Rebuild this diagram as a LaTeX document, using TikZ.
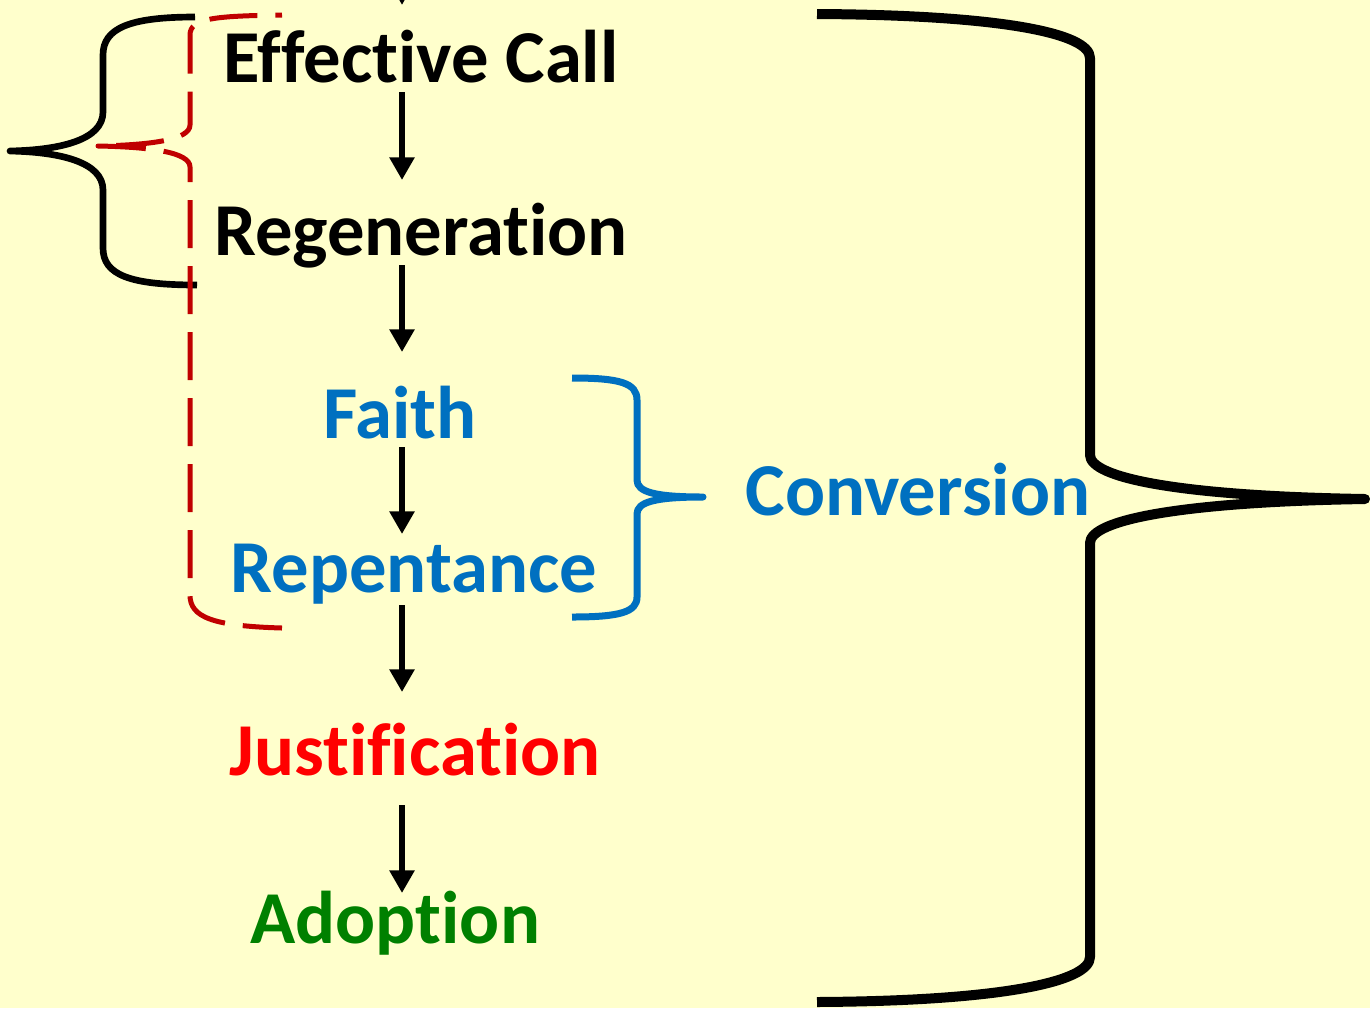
\documentclass[tikz,border=0pt]{standalone}
\usepackage{fontspec}
\setmainfont{Carlito}[Ligatures=NoCommon]
\usetikzlibrary{arrows.meta,calc}
\definecolor{bgyellow}{HTML}{FFFFCC}
\definecolor{cblue}{HTML}{0070C0}
\definecolor{cred}{HTML}{FF0000}
\definecolor{cgreen}{HTML}{008000}
\definecolor{dred}{HTML}{C00000}
\begin{document}
\begin{tikzpicture}[x=0.75pt,y=-0.75pt,
  lbl/.style={font=\fontsize{56}{67}\selectfont\bfseries, inner sep=0pt, anchor=base},
  arr/.style={line width=5pt, -{Triangle[width=18pt,length=17pt]}},
  bracestyle/.style={line width=#1, line join=round},
]
\useasboundingbox (0,0) rectangle (1370,1008);
\fill[bgyellow] (0,0) rectangle (1370,1008);

% labels
\node[lbl] (ec) at (421,82) {Effective Call};
\node[lbl] (rg) at (421,255) {Regeneration};
\node[lbl, text=cblue] (fa) at (400,438) {Faith};
\node[lbl, text=cblue] (rp) at (414,592) {Repentance};
\node[lbl, text=cred] (js) at (415,775) {Justification};
\node[lbl, text=cgreen] (ad) at (395,943) {Adoption};
\node[lbl, text=cblue] (cv) at (918,515) {Conversion};

\coordinate (ax) at (402,0);
\coordinate (topin) at (402,-60);

% arrows
\begin{scope}
\clip (0,0) rectangle (1370,1008);
\draw[arr] (topin) -- ($(ec.base -| ax)+(0,-77)$);
\end{scope}
\draw[arr] ($(ec.base -| ax)+(0,10)$) -- ($(rg.base -| ax)+(0,-75)$);
\draw[arr] ($(rg.base -| ax)+(0,10)$) -- ($(fa.base -| ax)+(0,-86)$);
\draw[arr] ($(fa.base -| ax)+(0,9)$) -- ($(rp.base -| ax)+(0,-58)$);
\draw[arr] ($(rp.base -| ax)+(0,13)$) -- ($(js.base -| ax)+(0,-83)$);
\draw[arr] ($(js.base -| ax)+(0,30)$) -- ($(ad.base -| ax)+(0,-50)$);

% left black brace
\draw[bracestyle=5pt] (195,17) .. controls (130,17) and (103,28) .. (103,55)
  -- (103,112) .. controls (103,140) and (60,150) .. (10,151)
  .. controls (60,152) and (103,162) .. (103,190)
  -- (103,248) .. controls (103,275) and (130,285) .. (197,285);

% red dashed brace
\draw[dred, line width=3.75pt, dash pattern=on 36pt off 13.5pt, dash phase=31pt, line join=round]
  (282,15) .. controls (215,16) and (190,18) .. (190,35)
  -- (190,125) .. controls (190,140) and (150,145) .. (98,146)
  .. controls (150,147) and (190,152) .. (190,167)
  -- (190,595) .. controls (190,617) and (212,626) .. (282,628);

% blue bracket
\draw[cblue, bracestyle=5.25pt] (572,378) .. controls (620,378) and (637,383) .. (637,400)
  -- (637,480) .. controls (637,492) and (655,497) .. (703,497)
  .. controls (655,497) and (637,502) .. (637,514)
  -- (637,597) .. controls (637,612) and (620,617) .. (572,617);

% big black brace
\draw[bracestyle=7.5pt] (817,14) .. controls (1000,15) and (1090,33) .. (1090,58)
  -- (1090,455) .. controls (1090,478) and (1180,496) .. (1365,499)
  .. controls (1180,502) and (1090,520) .. (1090,543)
  -- (1090,957) .. controls (1090,982) and (1000,1001) .. (817,1002);
\end{tikzpicture}
\end{document}
